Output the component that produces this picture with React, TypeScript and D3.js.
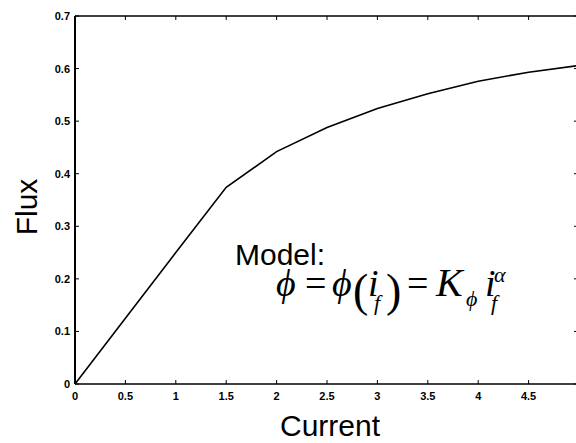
import React from "react";
import * as d3 from "d3";

// flux vs field current
const current = [0, 0.5, 1, 1.5, 2, 2.5, 3, 3.5, 4, 4.5, 5];
const flux = [0, 0.125, 0.25, 0.374, 0.442, 0.488, 0.524, 0.552, 0.576, 0.593, 0.606];
const xTicks = [0, 0.5, 1, 1.5, 2, 2.5, 3, 3.5, 4, 4.5, 5];
const yTicks = [0, 0.1, 0.2, 0.3, 0.4, 0.5, 0.6, 0.7];

const W = 576;
const H = 443;

const App = () => {
  const x = d3.scaleLinear().domain([0, 5]).range([75, 579]);
  const y = d3.scaleLinear().domain([0, 0.7]).range([384, 16]);

  const line = d3
    .line<number>()
    .x((_, i) => x(current[i]))
    .y((d) => y(d));

  const tickFont = { fontFamily: "Arial, Liberation Sans, sans-serif", fontSize: 11, fontWeight: "bold" } as const;
  const serif = "Liberation Serif, Times New Roman, DejaVu Serif, serif";
  const phi = "\u03D5";

  return (
    <svg width={W} height={H} style={{ position: "absolute", left: 0, top: 0, background: "#fff" }}>
      {/* frame */}
      <line x1={x(0)} y1={y(0)} x2={x(5)} y2={y(0)} stroke="#000" strokeWidth={1.5} />
      <line x1={x(0)} y1={y(0.7)} x2={x(5)} y2={y(0.7)} stroke="#000" strokeWidth={1.5} />
      <line x1={x(0)} y1={y(0)} x2={x(0)} y2={y(0.7)} stroke="#000" strokeWidth={2} />
      <line x1={x(5)} y1={y(0)} x2={x(5)} y2={y(0.7)} stroke="#000" strokeWidth={1.5} />

      {xTicks.map((t) => (
        <g key={"x" + t}>
          <line x1={x(t)} x2={x(t)} y1={y(0)} y2={y(0) - 4} stroke="#000" strokeWidth={1} />
          <line x1={x(t)} x2={x(t)} y1={y(0.7)} y2={y(0.7) + 4} stroke="#000" strokeWidth={1} />
          <text x={x(t)} y={400} textAnchor="middle" {...tickFont}>{d3.format("~g")(t)}</text>
        </g>
      ))}
      {yTicks.map((t) => (
        <g key={"y" + t}>
          <line x1={x(0)} x2={x(0) + 4} y1={y(t)} y2={y(t)} stroke="#000" strokeWidth={1} />
          <line x1={x(5)} x2={x(5) - 5} y1={y(t)} y2={y(t)} stroke="#000" strokeWidth={1} />
          <text x={70} y={y(t)} dy="0.36em" textAnchor="end" {...tickFont}>{d3.format("~g")(t)}</text>
        </g>
      ))}

      <path d={line(flux) ?? ""} fill="none" stroke="#000" strokeWidth={1.6} />

      {/* axis titles */}
      <text x={330} y={436} textAnchor="middle" fontFamily="Arial, Liberation Sans, sans-serif" fontSize={30}>Current</text>
      <text transform="translate(37,207) rotate(-90)" textAnchor="middle" fontFamily="Arial, Liberation Sans, sans-serif" fontSize={30}>Flux</text>

      {/* model annotation */}
      <text x={235} y={265} fontFamily="Arial, Liberation Sans, sans-serif" fontSize={30}>Model:</text>
      <g fontFamily={serif} fontStyle="italic" fontSize={38}>
        <text x={276} y={296}>{phi}</text>
        <text x={305} y={296} fontStyle="normal">=</text>
        <text x={332} y={296}>{phi}</text>
        <text x={353} y={306} fontStyle="normal" fontSize={46}>(</text>
        <text x={368} y={296}>i</text>
        <text x={374} y={310} fontSize={22}>f</text>
        <text x={386} y={306} fontStyle="normal" fontSize={46}>)</text>
        <text x={407} y={296} fontStyle="normal">=</text>
        <text x={436} y={296} fontSize={40}>K</text>
        <text x={466} y={306} fontSize={22}>{phi}</text>
        <text x={485} y={296}>i</text>
        <text x={491} y={310} fontSize={22}>f</text>
        <text x={494} y={282} fontSize={22}>α</text>
      </g>
    </svg>
  );
};

export default App;
